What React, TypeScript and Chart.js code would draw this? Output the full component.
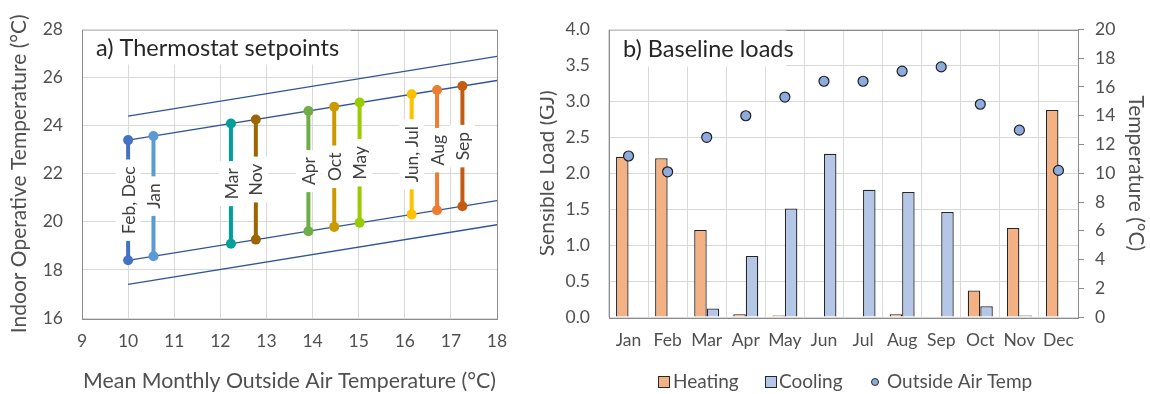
import React, { useEffect, useRef } from 'react';
import { Chart, registerables } from 'chart.js';
Chart.register(...registerables);

const FONT = 'Lato';
const TICK_COLOR = '#505050';
const GRID_COLOR = '#D9D9D9';
const FRAME_COLOR = '#8C8C8C';

// ---------- Panel a) Thermostat setpoints ----------
const groupLabels = ['Feb, Dec', 'Jan', 'Mar', 'Nov', 'Apr', 'Oct', 'May', 'Jun, Jul', 'Aug', 'Sep'];
const groupOutsideTemp = [10.0, 10.55, 12.23, 12.77, 13.91, 14.47, 15.02, 16.15, 16.7, 17.25];
const groupHeatSetpoint = [18.4, 18.57, 19.09, 19.26, 19.61, 19.79, 19.96, 20.31, 20.48, 20.65];
const groupCoolSetpoint = [23.4, 23.57, 24.09, 24.26, 24.61, 24.79, 24.96, 25.31, 25.48, 25.65];
const groupColors = ['#4472C4', '#5B9BD5', '#00A09A', '#9C6500', '#70AD47', '#CC9900', '#99CC00', '#FFC000', '#ED7D31', '#C55A11'];
const bandX = [10, 18];
const band90Upper = [24.4, 26.88];
const band80Upper = [23.4, 25.88];
const band80Lower = [18.4, 20.88];
const band90Lower = [17.4, 19.88];
const xTicksA = [9, 18, 1];
const yTicksA = [16, 28, 2];

// ---------- Panel b) Baseline loads ----------
const months = ['Jan', 'Feb', 'Mar', 'Apr', 'May', 'Jun', 'Jul', 'Aug', 'Sep', 'Oct', 'Nov', 'Dec'];
const heating = [2.23, 2.21, 1.21, 0.04, 0.02, 0, 0, 0.04, 0, 0.37, 1.24, 2.88];
const cooling = [0, 0, 0.12, 0.85, 1.51, 2.27, 1.77, 1.74, 1.46, 0.15, 0.02, 0];
const outsideAirTemp = [11.2, 10.1, 12.5, 14.0, 15.3, 16.4, 16.4, 17.1, 17.4, 14.8, 13.0, 10.2];
const loadTicks = [0, 4, 0.5];
const tempTicks = [0, 20, 2];

function drawFrame(chart: any) {
  const { ctx, chartArea: a } = chart;
  ctx.save();
  ctx.strokeStyle = FRAME_COLOR;
  ctx.lineWidth = 1;
  ctx.strokeRect(Math.round(a.left) + 0.5, Math.round(a.top) + 0.5, Math.round(a.right - a.left), Math.round(a.bottom - a.top));
  ctx.restore();
}

function drawTitleBox(chart: any, text: string, boxW: number, boxH: number, textDx: number) {
  const { ctx, chartArea: a } = chart;
  ctx.save();
  ctx.fillStyle = '#FFFFFF';
  ctx.fillRect(a.left + 1, a.top + 1, boxW, boxH);
  ctx.font = `23.5px ${FONT}`;
  ctx.fillStyle = '#262626';
  ctx.textAlign = 'left';
  ctx.textBaseline = 'middle';
  ctx.fillText(text, a.left + textDx, a.top + 1 + boxH / 2 + 1);
  ctx.restore();
}

const panelAPlugin = {
  id: 'panelA',
  beforeDatasetsDraw(chart: any) {
    drawFrame(chart);
    drawTitleBox(chart, 'a) Thermostat setpoints', 268, 34, 14);
  },
  afterDatasetsDraw(chart: any) {
    const { ctx } = chart;
    const xs = chart.scales.x;
    const ys = chart.scales.y;
    ctx.save();
    ctx.font = `17.5px ${FONT}`;
    groupLabels.forEach((lab, i) => {
      const px = xs.getPixelForValue(groupOutsideTemp[i]);
      const py = ys.getPixelForValue((groupHeatSetpoint[i] + groupCoolSetpoint[i]) / 2);
      const w = ctx.measureText(lab).width;
      ctx.save();
      ctx.translate(px, py);
      ctx.rotate(-Math.PI / 2);
      ctx.fillStyle = '#FFFFFF';
      ctx.fillRect(-w / 2 - 7, -12.5, w + 14, 25);
      ctx.fillStyle = '#404040';
      ctx.textAlign = 'center';
      ctx.textBaseline = 'middle';
      ctx.fillText(lab, 0, 1);
      ctx.restore();
    });
    ctx.restore();
  },
};

const panelBPlugin = {
  id: 'panelB',
  beforeDatasetsDraw(chart: any) {
    drawFrame(chart);
    drawTitleBox(chart, 'b) Baseline loads', 176, 36, 14);
  },
  afterDraw(chart: any) {
    const { ctx } = chart;
    ctx.save();
    const cy = 382;
    ctx.font = `19px ${FONT}`;
    ctx.textBaseline = 'middle';
    ctx.textAlign = 'left';
    // Heating
    ctx.fillStyle = '#F4B183';
    ctx.fillRect(118.5, cy - 5.5, 11, 11);
    ctx.strokeStyle = '#262626';
    ctx.lineWidth = 1;
    ctx.strokeRect(118.5, cy - 5.5, 11, 11);
    ctx.fillStyle = TICK_COLOR;
    ctx.fillText('Heating', 133, cy);
    // Cooling
    ctx.fillStyle = '#B4C7E7';
    ctx.fillRect(225.5, cy - 5.5, 11, 11);
    ctx.strokeRect(225.5, cy - 5.5, 11, 11);
    ctx.fillStyle = TICK_COLOR;
    ctx.fillText('Cooling', 239, cy);
    // Outside Air Temp
    ctx.beginPath();
    ctx.arc(335, cy, 3.5, 0, Math.PI * 2);
    ctx.fillStyle = '#8FAADC';
    ctx.fill();
    ctx.stroke();
    ctx.fillStyle = TICK_COLOR;
    ctx.fillText('Outside Air Temp', 347, cy);
    ctx.restore();
  },
};

function PanelA() {
  const ref = useRef<HTMLCanvasElement>(null);
  useEffect(() => {
    const datasets: any[] = [];
    groupLabels.forEach((lab, i) => {
      datasets.push({
        label: lab,
        data: [
          { x: groupOutsideTemp[i], y: groupHeatSetpoint[i] },
          { x: groupOutsideTemp[i], y: groupCoolSetpoint[i] },
        ],
        borderColor: groupColors[i],
        backgroundColor: groupColors[i],
        borderWidth: 4,
        pointRadius: 5,
        pointBorderWidth: 0,
        order: 1,
      });
    });
    [band90Upper, band80Upper, band80Lower, band90Lower].forEach((band, j) => {
      datasets.push({
        label: 'band' + j,
        data: bandX.map((x, k) => ({ x, y: band[k] })),
        borderColor: '#2F5597',
        borderWidth: 1.3,
        pointRadius: 0,
        order: 2,
      });
    });
    const chart = new Chart(ref.current!, {
      type: 'line',
      data: { datasets },
      plugins: [panelAPlugin],
      options: {
        animation: false,
        responsive: false,
        devicePixelRatio: 1,
        layout: { padding: { left: 0, right: 43, top: 17, bottom: 0 } },
        plugins: { legend: { display: false }, tooltip: { enabled: false } },
        scales: {
          x: {
            type: 'linear',
            min: xTicksA[0],
            max: xTicksA[1],
            afterFit: (s: any) => { s.height = 76; },
            border: { display: false },
            grid: { color: GRID_COLOR, drawTicks: false },
            ticks: { stepSize: xTicksA[2], padding: 13, color: TICK_COLOR, font: { family: FONT, size: 17.5 } },
            title: {
              display: true,
              text: 'Mean Monthly Outside Air Temperature (°C)',
              color: TICK_COLOR,
              font: { family: FONT, size: 21.3 },
              padding: { top: 0, bottom: 0 },
            },
          },
          y: {
            type: 'linear',
            min: yTicksA[0],
            max: yTicksA[1],
            afterFit: (s: any) => { s.width = 82; },
            border: { display: false },
            grid: { color: GRID_COLOR, drawTicks: false },
            ticks: { stepSize: yTicksA[2], padding: 19, color: TICK_COLOR, font: { family: FONT, size: 17.5 } },
            title: {
              display: true,
              text: 'Indoor Operative Temperature (°C)',
              color: TICK_COLOR,
              font: { family: FONT, size: 21 },
              padding: { top: 7, bottom: 0 },
            },
          },
        },
      },
    } as any);
    return () => chart.destroy();
  }, []);
  return <canvas ref={ref} width={540} height={394} style={{ display: 'block', width: 540, height: 394 }} />;
}

function PanelB() {
  const ref = useRef<HTMLCanvasElement>(null);
  useEffect(() => {
    const chart = new Chart(ref.current!, {
      type: 'bar',
      data: {
        labels: months,
        datasets: [
          {
            type: 'line',
            label: 'Outside Air Temp',
            data: outsideAirTemp,
            yAxisID: 'y2',
            showLine: false,
            pointRadius: 5,
            pointBackgroundColor: '#8FAADC',
            pointBorderColor: '#1F1F1F',
            pointBorderWidth: 1.2,
            order: 0,
          },
          {
            label: 'Heating',
            data: heating,
            yAxisID: 'y',
            backgroundColor: '#F4B183',
            borderColor: '#262626',
            borderWidth: 1.3,
            categoryPercentage: 0.64,
            barPercentage: 1,
            order: 1,
          },
          {
            label: 'Cooling',
            data: cooling,
            yAxisID: 'y',
            backgroundColor: '#B4C7E7',
            borderColor: '#262626',
            borderWidth: 1.3,
            categoryPercentage: 0.64,
            barPercentage: 1,
            order: 1,
          },
        ],
      },
      plugins: [panelBPlugin],
      options: {
        animation: false,
        responsive: false,
        devicePixelRatio: 1,
        layout: { padding: { left: 0, right: 0, top: 15, bottom: 0 } },
        plugins: { legend: { display: false }, tooltip: { enabled: false } },
        scales: {
          x: {
            type: 'category',
            afterFit: (s: any) => { s.height = 77; },
            border: { display: false },
            grid: { color: GRID_COLOR, drawTicks: false, offset: true },
            ticks: { autoSkip: false, maxRotation: 0, padding: 13, color: TICK_COLOR, font: { family: FONT, size: 17.5 } },
          },
          y: {
            type: 'linear',
            position: 'left',
            min: loadTicks[0],
            max: loadTicks[1],
            afterFit: (s: any) => { s.width = 69; },
            border: { display: false },
            grid: { color: GRID_COLOR, drawTicks: false },
            ticks: {
              stepSize: loadTicks[2],
              padding: 19,
              color: TICK_COLOR,
              font: { family: FONT, size: 17.5 },
              callback: (v: any) => Number(v).toFixed(1),
            },
            title: {
              display: true,
              text: 'Sensible Load (GJ)',
              color: TICK_COLOR,
              font: { family: FONT, size: 21 },
              padding: { top: -5, bottom: 0 },
            },
          },
          y2: {
            type: 'linear',
            position: 'right',
            min: tempTicks[0],
            max: tempTicks[1],
            afterFit: (s: any) => { s.width = 72; },
            border: { display: false },
            grid: { drawOnChartArea: false, drawTicks: true, tickLength: 6, color: FRAME_COLOR },
            ticks: { stepSize: tempTicks[2], padding: 11, color: TICK_COLOR, font: { family: FONT, size: 17.5 } },
            title: {
              display: true,
              text: 'Temperature (°C)',
              color: TICK_COLOR,
              font: { family: FONT, size: 21 },
              padding: { top: 2, bottom: 0 },
            },
          },
        },
      },
    } as any);
    return () => chart.destroy();
  }, []);
  return <canvas ref={ref} width={610} height={394} style={{ display: 'block', width: 610, height: 394 }} />;
}

export default function App() {
  return (
    <div style={{ position: 'fixed', left: 0, top: 0, width: 1150, height: 394, display: 'flex', background: '#FFFFFF' }}>
      <PanelA />
      <PanelB />
    </div>
  );
}
